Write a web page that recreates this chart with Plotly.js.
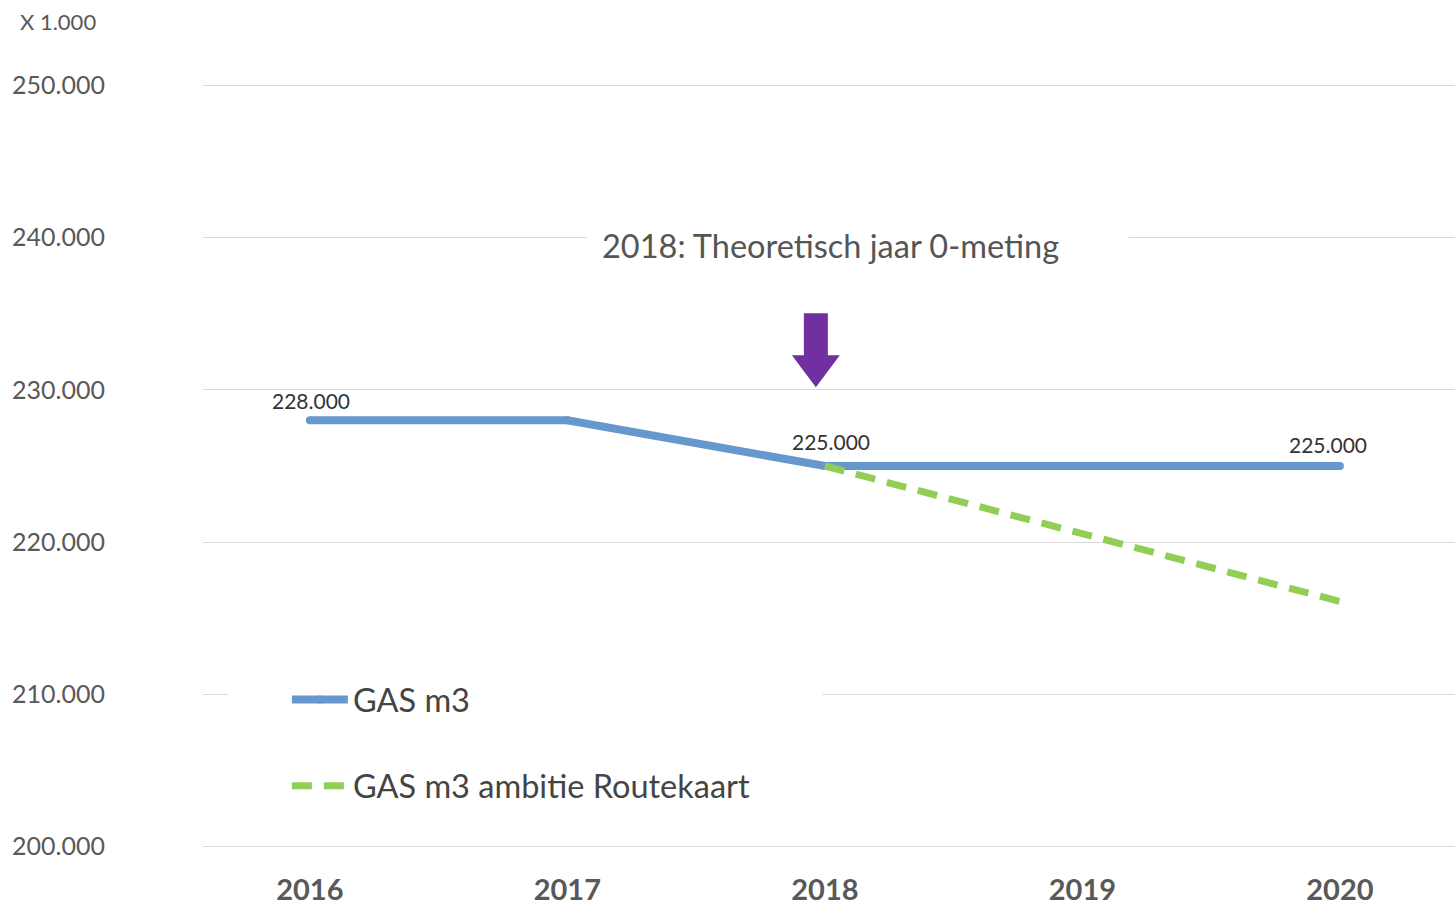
<!DOCTYPE html>
<html><head><meta charset="utf-8">
<script src="https://cdn.plot.ly/plotly-3.0.1.min.js"></script>
<style>html,body{margin:0;padding:0;background:#fff}#chart{width:1455px;height:908px}</style>
</head><body><div id="chart"></div>
<script>
const years = ['2016','2017','2018','2019','2020'];
const gasM3 = [228, 228, 225, 225, 225];
const gasAmbitie = [null, null, 225, 220.5, 216.1];
const yTicks = [200, 210, 220, 230, 240, 250];
const yTickLabels = ['200.000','210.000','220.000','230.000','240.000','250.000'];
const labelYears = ['2016','2018','2020'];
const labelValues = [228, 225, 225];
const labelTexts = ['228.000','225.000','225.000'];
const seriesNames = ['GAS m3','GAS m3 ambitie Routekaart'];
const titleText = '2018: Theoretisch jaar 0-meting';
const unitText = 'X 1.000';

const FONT = 'Lato, "Open Sans", sans-serif';
const labelShift = [[1,20],[6,25],[-12,22]];

const traces = [
  {type:'scatter', mode:'lines+markers', x:years, y:gasM3, name:seriesNames[0], legendgroup:'a',
   line:{color:'#6698CE', width:8}, marker:{color:'#6698CE', size:8}, hoverinfo:'skip'},
  {type:'scatter', mode:'lines', x:years, y:gasAmbitie, name:seriesNames[1], legendgroup:'b',
   line:{color:'#92CE55', width:7, dash:'20px,12px'}, hoverinfo:'skip', connectgaps:false}
];

const annotations = labelTexts.map((t,i)=>({
  x: years.indexOf(labelYears[i]), y: labelValues[i], xref:'x', yref:'y', text:t, showarrow:false,
  xshift: labelShift[i][0], yshift: labelShift[i][1],
  font:{family:FONT, size:21, color:'#333333'}
}));
annotations.push({x:2.02, y:239.5, xref:'x', yref:'y', text:titleText, showarrow:false,
  font:{family:FONT, size:32.5, color:'#555555'}});
annotations.push({x:-0.1478, y:1.0817, xref:'paper', yref:'paper', xanchor:'left', yanchor:'middle',
  text:unitText, showarrow:false, font:{family:FONT, size:22, color:'#595959'}});

const xc=1.965, s=0.0466, h=0.093, yTop=235.04, yHead=232.28, yTip=230.18;
const shapes = [
  {type:'rect', xref:'x', yref:'y', x0:1.076, x1:3.18, y0:238.6, y1:241, fillcolor:'#ffffff', line:{width:0}, layer:'between'},
  {type:'rect', xref:'x', yref:'y', x0:-0.318, x1:1.99, y0:209.6, y1:210.4, fillcolor:'#ffffff', line:{width:0}, layer:'between'},
  {type:'path', xref:'x', yref:'y',
   path:`M ${xc-s},${yTop} L ${xc+s},${yTop} L ${xc+s},${yHead} L ${xc+h},${yHead} L ${xc},${yTip} L ${xc-h},${yHead} L ${xc-s},${yHead} Z`,
   fillcolor:'#7030A0', line:{width:0}, layer:'above'}
];

const layout = {
  width:1455, height:908,
  margin:{l:203, r:0, t:83.5, b:59.5},
  paper_bgcolor:'#ffffff', plot_bgcolor:'#ffffff',
  font:{family:FONT, color:'#595959'},
  showlegend:true,
  legend:{x:0.067, y:0.2306, xanchor:'left', yanchor:'top', bgcolor:'rgba(0,0,0,0)',
    font:{family:FONT, size:32.5, color:'#444444'}, tracegroupgap:41, itemwidth:56, traceorder:'grouped'},
  xaxis:{type:'category', range:[-0.415, 4.447], showgrid:false, zeroline:false, showline:false,
    ticks:'outside', ticklen:16, tickcolor:'rgba(0,0,0,0)',
    tickfont:{family:FONT, size:29, color:'#595959', weight:'bold'}, fixedrange:true},
  yaxis:{range:[199.9, 250.1], tickvals:yTicks, ticktext:yTickLabels, showgrid:true, gridcolor:'#d9d9d9', gridwidth:1,
    zeroline:false, showline:false, ticks:'outside', ticklen:92, tickcolor:'rgba(0,0,0,0)',
    tickfont:{family:FONT, size:25, color:'#595959'}, fixedrange:true},
  annotations: annotations,
  shapes: shapes
};

Plotly.newPlot('chart', traces, layout, {staticPlot:true, displayModeBar:false});
</script></body></html>
